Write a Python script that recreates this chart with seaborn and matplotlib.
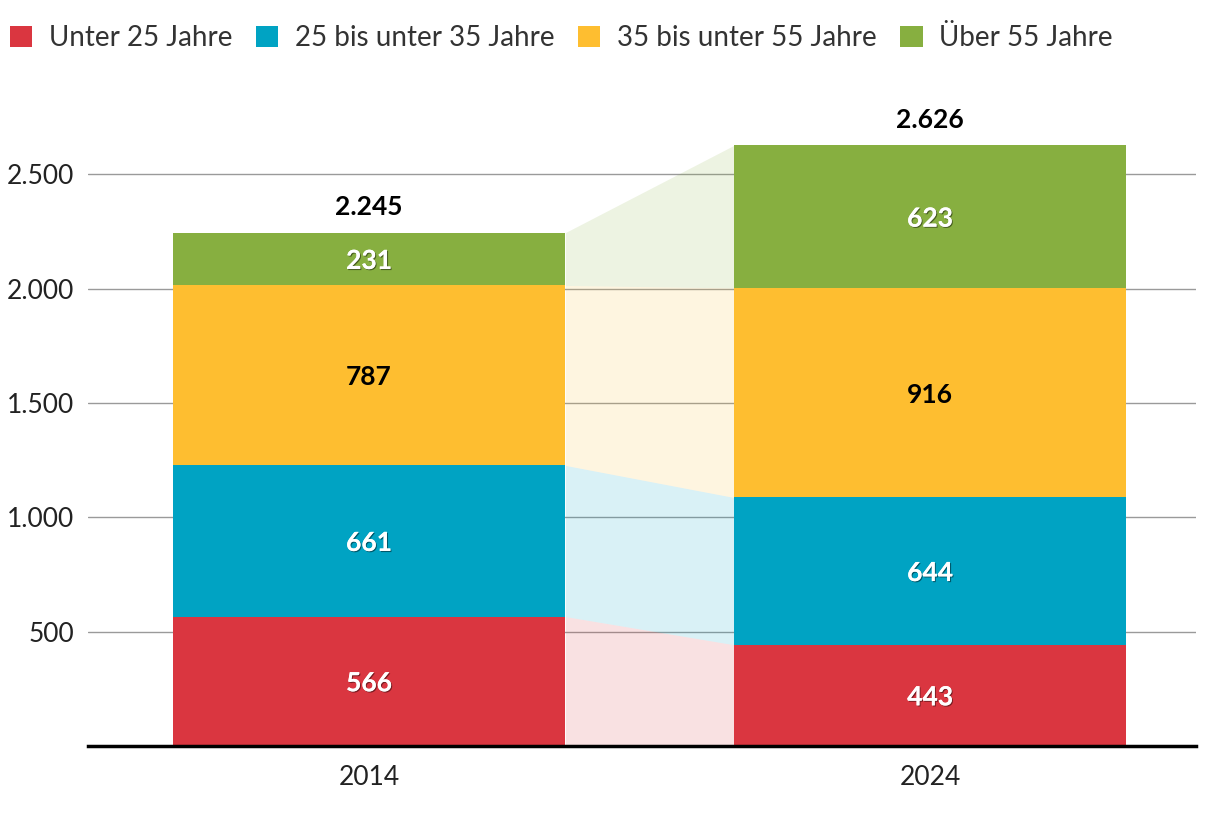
import matplotlib
matplotlib.use("Agg")
import matplotlib.pyplot as plt
import matplotlib.patheffects as pe
from matplotlib.patches import Patch
import numpy as np
import seaborn as sns

years = ["2014", "2024"]
groups = ["Unter 25 Jahre", "25 bis unter 35 Jahre", "35 bis unter 55 Jahre", "Über 55 Jahre"]
values = {
    "Unter 25 Jahre": [566, 443],
    "25 bis unter 35 Jahre": [661, 644],
    "35 bis unter 55 Jahre": [787, 916],
    "Über 55 Jahre": [231, 623],
}
totals = [2245, 2626]
colors = ["#DA3640", "#00A3C3", "#FEBE30", "#87AF40"]
label_colors = ["white", "white", "black", "white"]
yticks = [500, 1000, 1500, 2000, 2500]


def de_fmt(v):
    return f"{v:,.0f}".replace(",", ".")


sns.set_theme(style="white")
plt.rcParams["font.family"] = ["Lato", "DejaVu Sans"]

fig = plt.figure(figsize=(12.2, 8.14), dpi=100)
ax = fig.add_axes([88 / 1220, 68 / 814, 1108 / 1220, 617.5 / 814])

bar_w = 0.7
data = np.array([values[g] for g in groups], dtype=float)
cum = np.cumsum(data, axis=0)
lows = cum - data

# stacked bars: draw cumulative heights from the top series down
for i in range(len(groups) - 1, -1, -1):
    sns.barplot(x=years, y=cum[i], color=colors[i], width=bar_w, saturation=1,
                linewidth=0, ax=ax, zorder=3)

# connecting bands between the two bars
for i in range(len(groups)):
    ax.fill_between([bar_w / 2, 1 - bar_w / 2], [lows[i][0], lows[i][1]],
                    [cum[i][0], cum[i][1]], color=colors[i], alpha=0.15,
                    linewidth=0, zorder=1)

# segment labels
shadow = [pe.withSimplePatchShadow(offset=(0.8, -0.8), shadow_rgbFace="black", alpha=0.45),
          pe.Normal()]
for i in range(len(groups)):
    for j in range(len(years)):
        y = lows[i][j] + data[i][j] / 2
        t = ax.text(j, y, de_fmt(data[i][j]), ha="center", va="center_baseline",
                    fontsize=19, fontweight="bold", color=label_colors[i], zorder=5)
        if label_colors[i] == "white":
            t.set_path_effects(shadow)

for j, tot in enumerate(totals):
    ax.annotate(de_fmt(tot), (j, tot), xytext=(0, 10), textcoords="offset points",
                ha="center", va="bottom", fontsize=19, fontweight="bold", color="black")

ax.set_xlim(-0.501, 1.474)
ax.set_ylim(0, 2700)
ax.set_yticks(yticks)
ax.set_yticklabels([de_fmt(v) for v in yticks])
ax.yaxis.grid(True, color="#9a9a9a", linewidth=1, zorder=0)
ax.set_axisbelow(True)
ax.tick_params(axis="both", length=0, labelsize=19, colors="#222222")
ax.tick_params(axis="y", pad=10)
ax.tick_params(axis="x", pad=14)
for s in ["top", "right", "left"]:
    ax.spines[s].set_visible(False)
ax.spines["bottom"].set_color("black")
ax.spines["bottom"].set_linewidth(2.5)
ax.spines["bottom"].set_zorder(6)
ax.set_xlabel("")
ax.set_ylabel("")

handles = [Patch(facecolor=c, edgecolor="none") for c in colors]
fig.legend(handles, groups, loc="center left", bbox_to_anchor=(10 / 1220, 1 - 38 / 814), ncol=4,
           frameon=False, fontsize=20, handlelength=0.8, handleheight=0.8,
           handletextpad=0.6, columnspacing=0.85, labelcolor="#333333",
           borderaxespad=0.0, borderpad=0.0)

fig.savefig("out.png", dpi=100)
